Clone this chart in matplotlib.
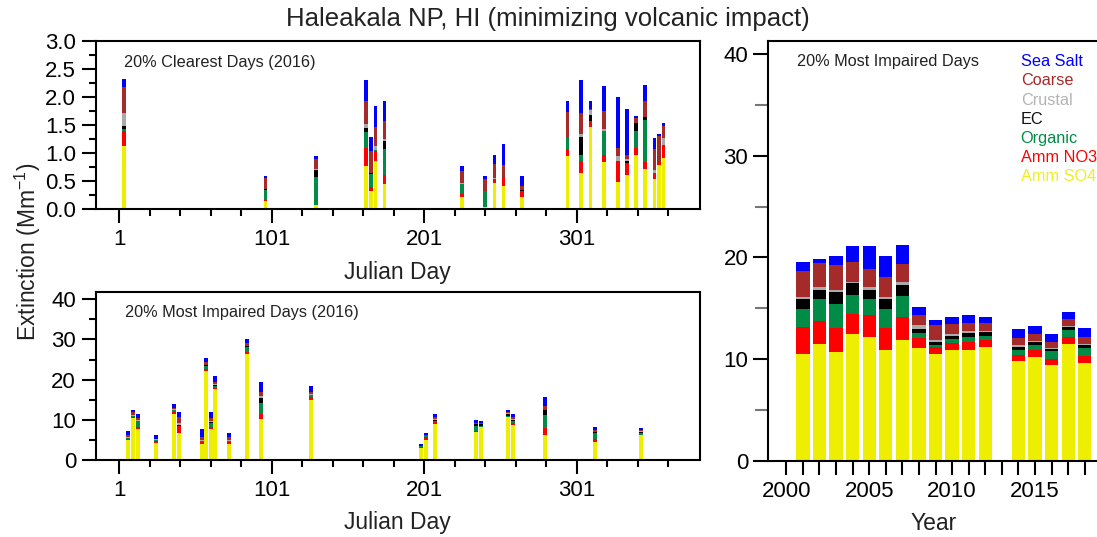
import matplotlib
matplotlib.use('Agg')

import matplotlib.pyplot as plt
import numpy as np
from matplotlib.ticker import FixedLocator, NullFormatter

plt.rcParams['font.family'] = ['Liberation Sans', 'DejaVu Sans']
plt.rcParams['mathtext.fontset'] = 'custom'
plt.rcParams['mathtext.rm'] = 'Liberation Sans'

# ---------------------------
# DATA
# ---------------------------
species = ["Amm SO4", "Amm NO3", "Organic", "EC", "Crustal", "Coarse", "Sea Salt"]
colors = ["#EEEE00", "#FF0000", "#008C46", "#000000", "#AAAAAA", "#A52A2A", "#0000FF"]
text_colors = ["#EEEE22", "#FF0000", "#008C46", "#111111", "#B4B4B4", "#A52A2A", "#0000FF"]

# 20% clearest days 2016 (Julian day, Mm-1)
clear_day = [4, 97, 130, 163, 166, 169, 175, 226, 241, 247, 253, 265,
             295, 304, 310, 319, 328, 334, 340, 346, 352, 355, 358]
clear_so4 = [1.13, 0.15, 0.07, 0.77, 0.32, 0.85, 0.45, 0.21, 0.04, 0.46, 0.42, 0.22,
             0.95, 0.65, 1.47, 0.84, 0.49, 0.61, 0.97, 0.72, 0.54, 0.79, 0.91]
clear_no3 = [0.27, 0.01, 0.00, 0.33, 0.07, 0.19, 0.15, 0.06, 0.00, 0.07, 0.15, 0.11,
             0.12, 0.20, 0.10, 0.12, 0.37, 0.22, 0.13, 0.12, 0.10, 0.07, 0.23]
clear_org = [0.04, 0.18, 0.50, 0.28, 0.24, 0.02, 0.47, 0.18, 0.28, 0.00, 0.00, 0.00,
             0.20, 0.12, 0.00, 0.44, 0.00, 0.00, 0.30, 0.76, 0.00, 0.00, 0.00]
clear_ec = [0.05, 0.01, 0.13, 0.07, 0.01, 0.00, 0.15, 0.00, 0.00, 0.00, 0.00, 0.01,
            0.00, 0.31, 0.12, 0.00, 0.00, 0.03, 0.13, 0.05, 0.00, 0.00, 0.01]
clear_crust = [0.22, 0.01, 0.01, 0.07, 0.01, 0.06, 0.03, 0.01, 0.00, 0.02, 0.01, 0.00,
               0.00, 0.07, 0.08, 0.03, 0.08, 0.03, 0.00, 0.00, 0.06, 0.00, 0.12]
clear_coarse = [0.47, 0.19, 0.18, 0.41, 0.38, 0.35, 0.32, 0.22, 0.21, 0.25, 0.21, 0.08,
                0.46, 0.36, 0.02, 0.33, 0.15, 0.07, 0.09, 0.28, 0.37, 0.45, 0.21]
clear_salt = [0.15, 0.04, 0.05, 0.37, 0.26, 0.37, 0.36, 0.09, 0.06, 0.17, 0.37, 0.17,
              0.20, 0.60, 0.14, 0.44, 0.92, 0.83, 0.04, 0.29, 0.20, 0.04, 0.05]

# 20% most impaired days 2016
imp_day = [7, 10, 13, 25, 37, 40, 55, 58, 61, 64, 73, 85, 94, 127,
           199, 202, 208, 235, 238, 256, 259, 280, 313, 343]
imp_so4 = [5.0, 10.4, 7.7, 4.4, 11.6, 6.9, 4.1, 22.2, 7.7, 17.6, 4.0, 26.5, 10.2, 14.9,
           3.1, 5.0, 9.0, 7.1, 8.2, 10.7, 8.8, 6.3, 4.6, 6.2]
imp_no3 = [0.4, 0.3, 0.6, 0.4, 0.4, 1.6, 0.5, 0.4, 0.5, 0.4, 0.6, 0.4, 1.4, 0.7,
           0.3, 0.9, 0.6, 0.1, 0.1, 0.1, 0.5, 1.8, 0.6, 0.1]
imp_org = [0.1, 0.2, 1.5, 0.3, 0.5, 0.1, 0.2, 0.9, 1.0, 0.5, 0.2, 1.3, 2.7, 0.6,
           0.1, 0.1, 0.2, 1.3, 0.2, 0.2, 0.5, 3.1, 1.5, 0.4]
imp_ec = [0.1, 0.1, 0.0, 0.05, 0.1, 0.1, 0.1, 0.1, 0.4, 0.1, 0.1, 0.1, 1.1, 0.1,
          0.0, 0.0, 0.2, 0.5, 0.5, 0.6, 0.1, 1.3, 0.3, 0.4]
imp_crust = [0.1, 0.3, 0.1, 0.05, 0.1, 0.5, 0.1, 0.1, 0.1, 0.3, 0.1, 0.1, 0.5, 0.2,
             0.0, 0.1, 0.2, 0.1, 0.1, 0.1, 0.3, 0.1, 0.1, 0.1]
imp_coarse = [0.6, 0.6, 0.5, 0.2, 0.2, 1.6, 0.9, 0.8, 0.7, 0.5, 0.7, 0.6, 1.1, 0.5,
              0.1, 0.1, 0.6, 0.2, 0.1, 0.4, 0.6, 1.0, 0.4, 0.3]
imp_salt = [1.0, 0.6, 1.0, 1.0, 1.0, 1.3, 1.8, 1.0, 1.5, 1.5, 1.2, 1.0, 2.4, 1.4,
            0.4, 0.5, 0.7, 0.7, 0.5, 0.4, 0.7, 2.0, 0.8, 0.5]

# annual means of the 20% most impaired days
year = [2001, 2002, 2003, 2004, 2005, 2006, 2007, 2008, 2009, 2010, 2011, 2012,
        2014, 2015, 2016, 2017, 2018]
yr_so4 = [10.46, 11.44, 10.66, 12.43, 12.13, 10.86, 11.87, 11.08, 10.46, 10.86, 10.86, 11.18,
          9.83, 10.16, 9.38, 11.44, 9.64]
yr_no3 = [2.69, 2.33, 2.39, 1.99, 2.20, 2.19, 2.26, 0.99, 0.75, 0.68, 0.81, 0.69,
          0.59, 0.70, 0.59, 0.69, 0.68]
yr_org = [1.77, 2.10, 2.36, 1.87, 1.60, 1.90, 2.10, 0.49, 0.13, 0.43, 0.52, 0.39,
          0.46, 0.48, 0.79, 0.72, 0.73]
yr_ec = [1.01, 0.91, 1.21, 1.15, 0.85, 0.98, 1.08, 0.39, 0.33, 0.29, 0.40, 0.39,
         0.33, 0.33, 0.19, 0.30, 0.29]
yr_crust = [0.14, 0.33, 0.20, 0.16, 0.27, 0.17, 0.29, 0.36, 0.20, 0.17, 0.16, 0.10,
            0.13, 0.10, 0.10, 0.13, 0.17]
yr_coarse = [2.62, 2.30, 2.45, 1.94, 1.83, 1.93, 1.74, 1.02, 1.47, 1.01, 0.76, 0.76,
             0.69, 0.69, 0.62, 0.62, 0.62]
yr_salt = [0.91, 0.39, 0.86, 1.60, 2.23, 2.10, 1.87, 0.78, 0.49, 0.69, 0.82, 0.62,
           0.92, 0.78, 0.79, 0.75, 0.92]

W, H = 1097, 537


def px(x, y):
    return x / W, 1 - y / H


def stack(ax, x, parts, width):
    bottom = np.zeros(len(x))
    for vals, c in zip(parts, colors):
        vals = np.array(vals, float)
        ax.bar(x, vals, width, bottom=bottom, color=c, linewidth=0)
        bottom += vals


def frame(ax):
    for s in ax.spines.values():
        s.set_linewidth(1.5)
    ax.tick_params(which='both', direction='out', width=1.5, labelsize=16)
    ax.tick_params(which='major', length=10)
    ax.tick_params(which='minor', length=5)
    ax.tick_params(axis='x', which='major', pad=4.5)
    ax.tick_params(axis='y', which='major', pad=4)


def julian_axis(ax):
    ax.set_xlim(-14.6, 381.9)
    ax.xaxis.set_major_locator(FixedLocator([1, 101, 201, 301]))
    ax.xaxis.set_minor_locator(FixedLocator(np.arange(1, 362, 20)))
    ax.xaxis.set_minor_formatter(NullFormatter())


# ---------------------------
# FIGURE
# ---------------------------
fig = plt.figure(figsize=(W / 100, H / 100), dpi=100)

ax_top = fig.add_axes([95.5 / W, 1 - 209 / H, (700 - 95.5) / W, (209 - 41.3) / H])
ax_bot = fig.add_axes([95.5 / W, 1 - 460.3 / H, (700 - 95.5) / W, (460.3 - 292.3) / H])
ax_yr = fig.add_axes([768.3 / W, 1 - 460.7 / H, (1099 - 768.3) / W, (460.7 - 41) / H])

# clearest days
stack(ax_top, clear_day, [clear_so4, clear_no3, clear_org, clear_ec,
                          clear_crust, clear_coarse, clear_salt], 2.4)
julian_axis(ax_top)
ax_top.set_ylim(0, 3.0)
ax_top.set_yticks(np.arange(0, 3.01, 0.5))
ax_top.set_yticklabels([f"{v:.1f}" for v in np.arange(0, 3.01, 0.5)])
ax_top.yaxis.set_minor_locator(FixedLocator(np.arange(0.25, 3.0, 0.5)))
frame(ax_top)

# most impaired days
stack(ax_bot, imp_day, [imp_so4, imp_no3, imp_org, imp_ec,
                        imp_crust, imp_coarse, imp_salt], 2.6)
julian_axis(ax_bot)
ax_bot.set_ylim(0, 41.7)
ax_bot.set_yticks([0, 10, 20, 30, 40])
ax_bot.yaxis.set_minor_locator(FixedLocator([5, 15, 25, 35]))
frame(ax_bot)

# yearly
stack(ax_yr, year, [yr_so4, yr_no3, yr_org, yr_ec,
                    yr_crust, yr_coarse, yr_salt], 0.8)
ax_yr.set_xlim(1998.914, 2018.862)
ax_yr.set_ylim(0, 41.3)
ax_yr.set_xticks([2000, 2005, 2010, 2015])
ax_yr.xaxis.set_minor_locator(FixedLocator(np.arange(2000, 2019)))
ax_yr.set_yticks([0, 10, 20, 30, 40])
ax_yr.yaxis.set_minor_locator(FixedLocator([5, 15, 25, 35]))
frame(ax_yr)
ax_yr.tick_params(axis='x', which='minor', length=10)
ax_yr.tick_params(axis='y', which='minor', length=9.5, color='#777777')
ax_yr.tick_params(axis='y', which='major', length=10.5)

# ---------------------------
# TEXTS
# ---------------------------
fig.text(*px(548, 19), "Haleakala NP, HI (minimizing volcanic impact)",
         fontsize=18.5, ha='center', va='center', color='#222222')
fig.text(*px(28, 252), r"Extinction (Mm$^{\mathregular{-1}}$)", fontsize=16.5,
         rotation=90, ha='center', va='center', color='#222222')
fig.text(*px(397.8, 273), "Julian Day", fontsize=16.5, ha='center', va='center', color='#222222')
fig.text(*px(397.8, 523), "Julian Day", fontsize=16.5, ha='center', va='center', color='#222222')
fig.text(*px(933.6, 523), "Year", fontsize=16.5, ha='center', va='center', color='#222222')

fig.text(*px(124, 62), "20% Clearest Days (2016)", fontsize=11.7, va='center', color='#222222')
fig.text(*px(125, 312.7), "20% Most Impaired Days (2016)", fontsize=11.7, va='center', color='#222222')
fig.text(*px(797.3, 61.7), "20% Most Impaired Days", fontsize=11.7, va='center', color='#222222')

for i, (name, c) in enumerate(zip(species[::-1], text_colors[::-1])):
    fig.text(*px(1020.7, 61.7 + i * 19.17), name, fontsize=11.7, va='center', color=c)

fig.savefig("out.png", dpi=100)
